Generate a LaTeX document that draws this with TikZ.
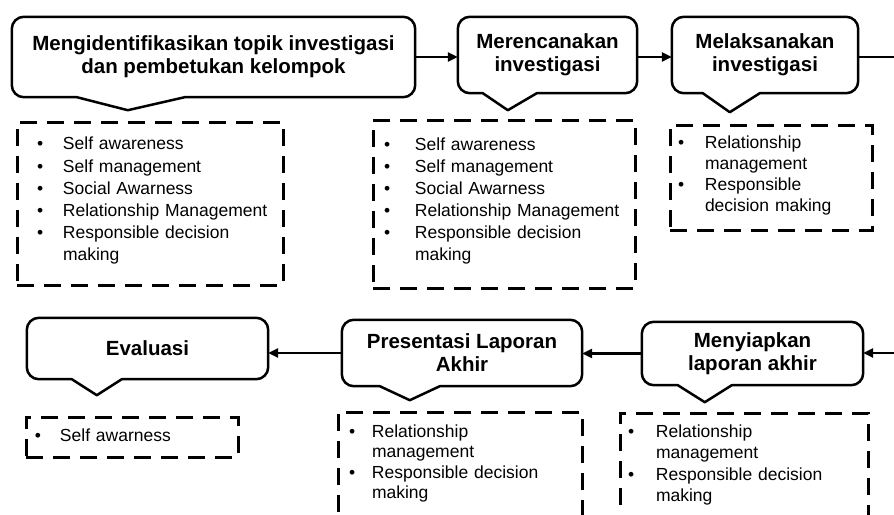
\documentclass[tikz,border=0pt]{standalone}
\usepackage{fontspec}
\setmainfont{Liberation Sans}
\usetikzlibrary{arrows.meta,calc}

% bullet list: #1 bullet indent, #2 text indent, #3 rows
\newcommand{\blist}[3]{\begin{tabular}{@{\hspace{#1pt}}p{\dimexpr #2pt-#1pt\relax}@{}l@{}}#3\end{tabular}}
% outline of a callout: node, base left, tip, base right, depth
\newcommand{\callout}[5]{%
	\draw[call line] (#1.north west) -- (#1.north east) -- (#1.south east) [sharp corners]
		-- ($(#1.south west)+(#4,0)$) -- ($(#1.south west)+(#3,#5)$)
		-- ($(#1.south west)+(#2,0)$) [rounded corners=12pt] -- (#1.south west) -- cycle;}

\begin{document}
\begin{tikzpicture}[x=1pt,y=-1pt,>={Triangle[length=10pt,width=9pt]},
	step box/.style={rectangle,inner sep=0pt,align=center,font=\bfseries\fontsize{20.5}{23}\selectfont},
	call line/.style={line width=2.5pt,rounded corners=12pt,line join=round},
	list box/.style={rectangle,draw,line width=3pt,dash pattern=on 17pt off 10pt,inner sep=0pt,
		align=left,font=\fontsize{17.5}{21.5}\selectfont},
	flow/.style={->,line width=2.5pt}]

	\useasboundingbox (0,0) rectangle (894,514);
	\clip (0,0) rectangle (894,514);

	% top row
	\node[step box,minimum width=403pt,minimum height=80pt] (t1) at (213.5,57) {Mengidentifikasikan topik investigasi\\dan pembetukan kelompok};
	\node[step box,minimum width=179pt,minimum height=76pt] (t2) at (547.5,55) {Merencanakan\\investigasi};
	\node[step box,minimum width=186pt,minimum height=76pt] (t3) at (765,55) {Melaksanakan\\investigasi};
	\callout{t1}{65}{116}{173}{13}
	\callout{t2}{25}{50}{79}{17}
	\callout{t3}{31}{58}{88}{19}

	\node[list box,font=\fontsize{17.5}{22.2}\selectfont,text width=266pt,minimum height=163pt] (l1) at (150,203.5) {\blist{20}{46}{
		\textbullet & Self awareness\\
		\textbullet & Self management\\
		\textbullet & Social Awarness\\
		\textbullet & Relationship Management\\
		\textbullet & Responsible decision\\
		& making}\vspace{5pt}};
	\node[list box,font=\fontsize{17.5}{22}\selectfont,text width=262pt,minimum height=168pt] (l2) at (504,204) {\blist{11}{42}{
		\textbullet & Self awareness\\
		\textbullet & Self management\\
		\textbullet & Social Awarness\\
		\textbullet & Relationship Management\\
		\textbullet & Responsible decision\\
		& making}\vspace{6pt}};
	\node[list box,font=\fontsize{17.5}{21}\selectfont,text width=202pt,minimum height=105pt] (l3) at (771,177.5) {\blist{8}{35}{
		\textbullet & Relationship\\
		& management\\
		\textbullet & Responsible\\
		& decision making}\vspace{3pt}};

	% bottom row
	\node[step box,minimum width=241pt,minimum height=61pt] (b1) at (147.5,348.5) {Evaluasi};
	\node[step box,minimum width=240pt,minimum height=66pt] (b2) at (462,353) {Presentasi Laporan\\Akhir};
	\node[step box,minimum width=221pt,minimum height=63pt] (b3) at (752.5,353.5) {Menyiapkan\\laporan akhir};
	\callout{b1}{45}{70}{95}{16}
	\callout{b2}{38}{68}{98}{14}
	\callout{b3}{36}{63}{90}{17}

	\node[list box,text width=212pt,minimum height=40pt] (l4) at (132,437) {\blist{9}{34}{
		\textbullet & Self awarness}};
	\node[list box,font=\fontsize{17.5}{20.5}\selectfont,text width=244pt,minimum height=104pt] (l5) at (460,464) {\blist{11}{34}{
		\textbullet & Relationship\\
		& management\\
		\textbullet & Responsible decision\\
		& making}};
	\node[list box,text width=248pt,minimum height=104pt] (l6) at (744,465) {\blist{8}{36}{
		\textbullet & Relationship\\
		& management\\
		\textbullet & Responsible decision\\
		& making}};

	% connectors
	\coordinate (r1) at (900,57);
	\coordinate (r2) at (900,353);
	\draw[flow] (t1.east) -- (t1.east -| t2.west);
	\draw[flow] (t1.east -| t2.east) -- (t1.east -| t3.west);
	\draw[line width=2.5pt] (t1.east -| t3.east) -- (r1);
	\draw[flow] (r2) -- (r2 -| b3.east);
	\draw[flow] (b3.west) -- (b3.west -| b2.east);
	\draw[flow] (b2.west) -- (b2.west -| b1.east);
\end{tikzpicture}
\end{document}
